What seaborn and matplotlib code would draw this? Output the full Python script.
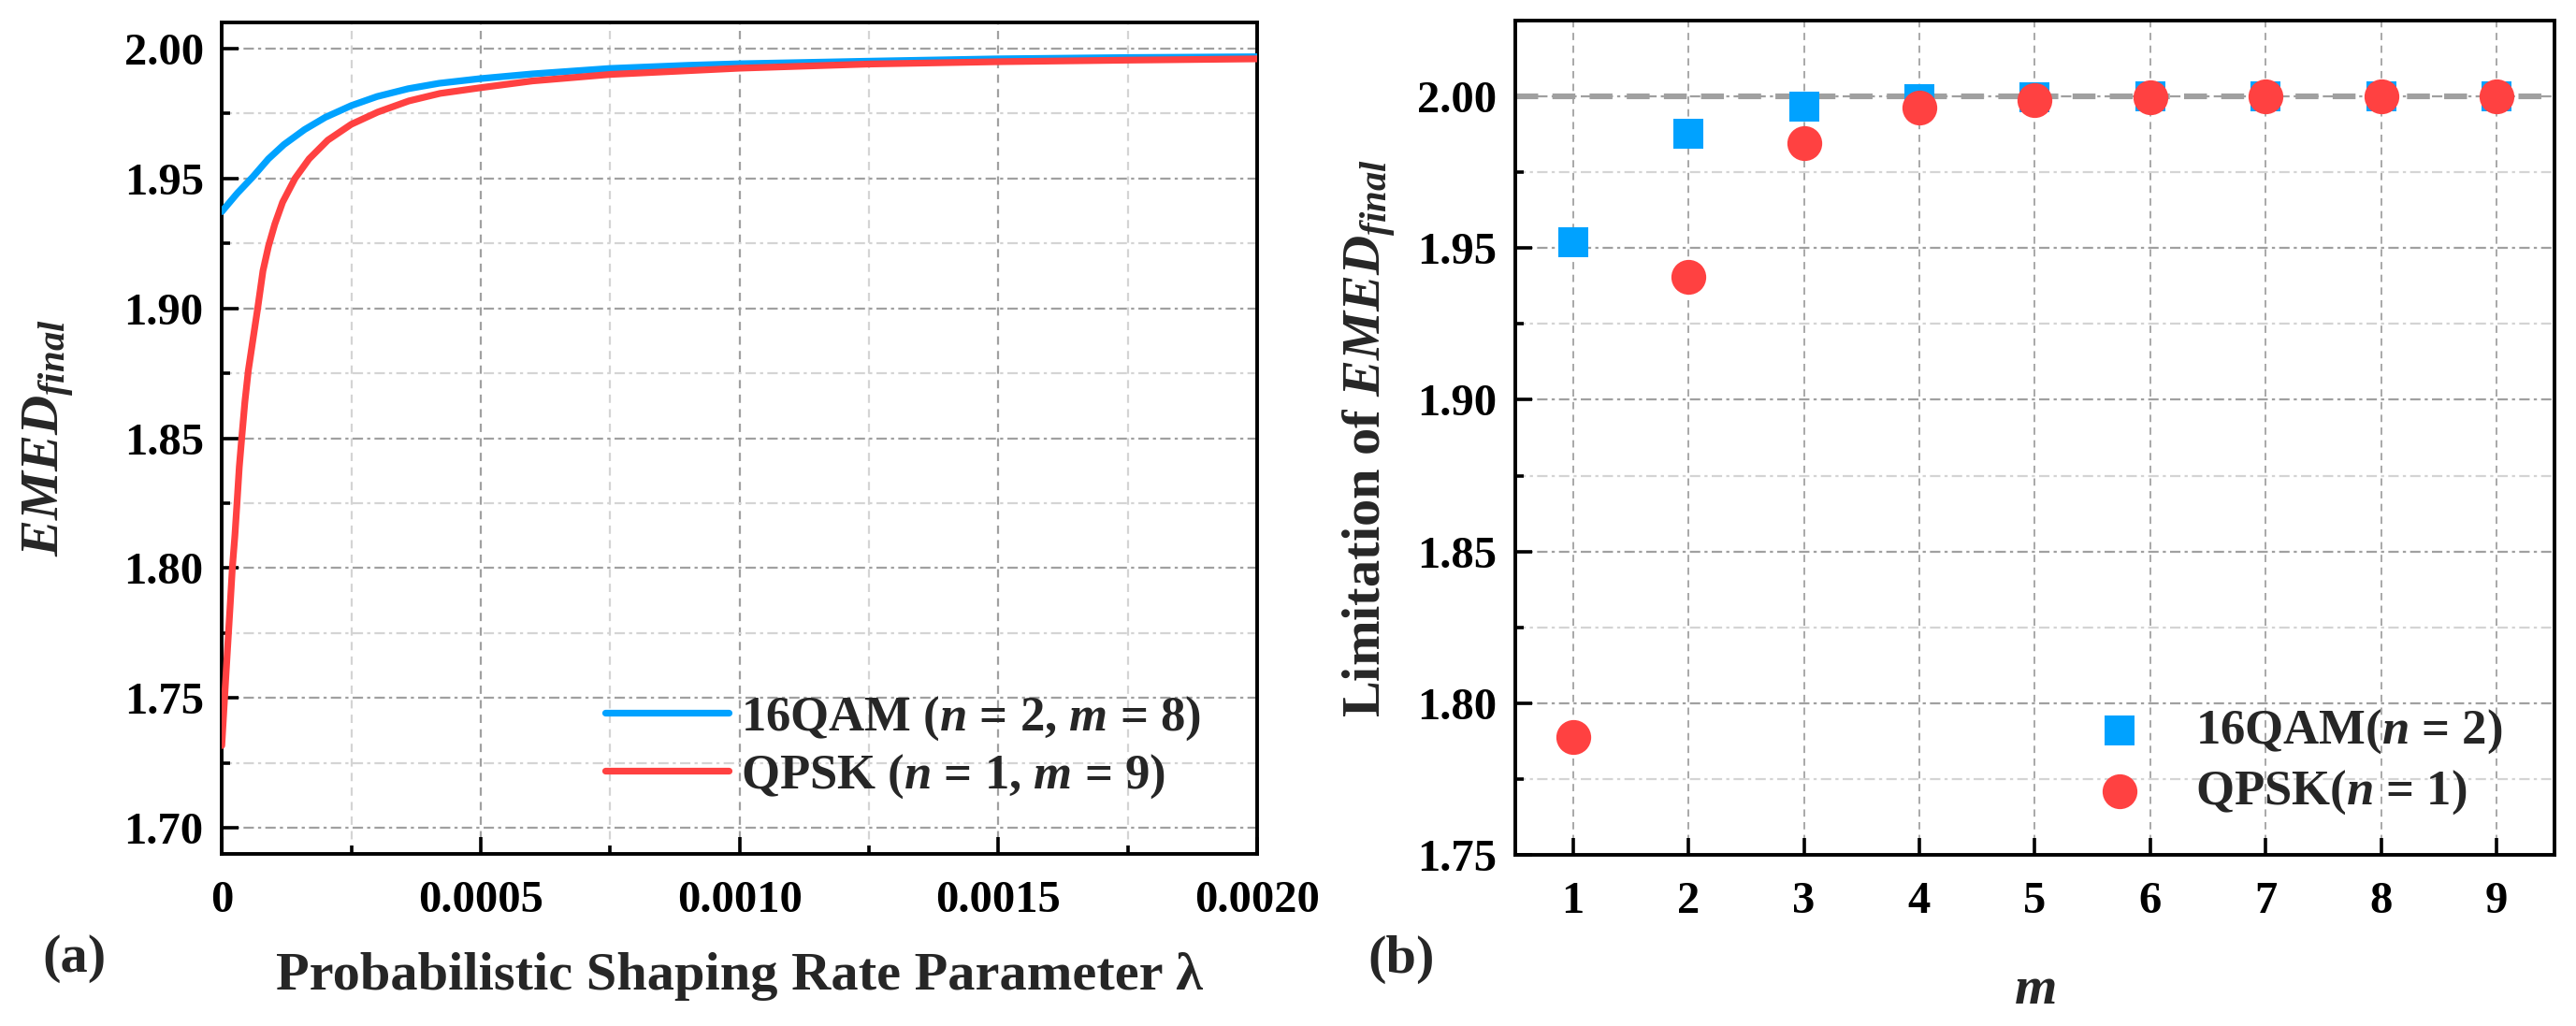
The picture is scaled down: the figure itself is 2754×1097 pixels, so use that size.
import matplotlib
matplotlib.use("Agg")
import matplotlib.pyplot as plt
import seaborn as sns
import pandas as pd
from matplotlib.ticker import MultipleLocator, FixedLocator, FuncFormatter
from matplotlib.lines import Line2D

# ---------------- data ----------------
lam_16qam = [0, 0.00003, 0.00006, 0.00009, 0.00012, 0.00016, 0.0002, 0.00025,
             0.0003, 0.00036, 0.00042, 0.0005, 0.0006, 0.00075, 0.0009, 0.001,
             0.00125, 0.0015, 0.00175, 0.002]
emed_16qam = [1.9372, 1.9443, 1.9506, 1.9575, 1.9630, 1.9688, 1.9735, 1.9780,
              1.9815, 1.9845, 1.9866, 1.9884, 1.9902, 1.9923, 1.9935, 1.9941,
              1.9951, 1.9960, 1.9965, 1.9968]

lam_qpsk = [0, 0.0000054, 0.0000114, 0.0000163, 0.0000204, 0.0000253, 0.0000294,
            0.0000338, 0.0000385, 0.0000446, 0.0000512, 0.0000602, 0.0000693,
            0.0000795, 0.0000903, 0.0001024, 0.0001174, 0.0001415, 0.0001686,
            0.0002047, 0.00025, 0.0003011, 0.0003613, 0.0004216, 0.0005, 0.0006,
            0.00075, 0.001, 0.00125, 0.0015, 0.00175, 0.002]
emed_qpsk = [1.7317, 1.7501, 1.7700, 1.7861, 1.8001, 1.8125, 1.8251,
             1.8390, 1.8501, 1.8640, 1.8760, 1.8880, 1.9000,
             1.9144, 1.9240, 1.9324, 1.9408, 1.9500, 1.9575,
             1.9647, 1.9708, 1.9755, 1.9798, 1.9827, 1.9849, 1.9875,
             1.9900, 1.9924, 1.9940, 1.9949, 1.9955, 1.9960]

m_values = [1, 2, 3, 4, 5, 6, 7, 8, 9]
lim_16qam = [1.9518, 1.9876, 1.9968, 1.9992, 1.9998, 2.0000, 2.0000, 2.0000, 2.0000]
lim_qpsk = [1.7888, 1.9404, 1.9846, 1.9962, 1.9989, 1.9997, 1.9999, 2.0000, 2.0000]

label_line_16qam = r"16QAM ($\mathit{n}$ = 2, $\mathit{m}$ = 8)"
label_line_qpsk = r"QPSK ($\mathit{n}$ = 1, $\mathit{m}$ = 9)"
label_pt_16qam = r"16QAM($\mathit{n}$ = 2)"
label_pt_qpsk = r"QPSK($\mathit{n}$ = 1)"

xticks_a = [0, 0.0005, 0.0010, 0.0015, 0.0020]
xticklabels_a = ["0", "0.0005", "0.0010", "0.0015", "0.0020"]
yticks_a = [1.70, 1.75, 1.80, 1.85, 1.90, 1.95, 2.00]
yticks_b = [1.75, 1.80, 1.85, 1.90, 1.95, 2.00]

BLUE = "#00A2FF"
RED = "#FF4141"

# ---------------- style ----------------
sns.set_theme(style="white")
plt.rcParams.update({
    "font.family": ["Liberation Serif", "DejaVu Serif"],
    "font.weight": "bold",
    "axes.labelweight": "bold",
    "mathtext.fontset": "custom",
    "mathtext.rm": "Liberation Serif:bold",
    "mathtext.bf": "Liberation Serif:bold",
    "mathtext.it": "Liberation Serif:italic:bold",
    "axes.edgecolor": "black",
    "axes.linewidth": 1.4,
})

fig = plt.figure(figsize=(13.77, 5.485), dpi=200)
ax1 = fig.add_axes([0.0861, 0.1677, 0.4020, 0.8104])
ax2 = fig.add_axes([0.5882, 0.1668, 0.4034, 0.8131])

DASHDOT = (0, (5, 2, 1.5, 2))
DASHED = (0, (4, 3))
MAJ_C = "#A0A0A0"
MIN_C = "#D4D4D4"
TICK_FS = 17.5
LABEL_FS = 21

# ---------------- panel (a) ----------------
df_a16 = pd.DataFrame({"lam": lam_16qam, "emed": emed_16qam})
df_aqp = pd.DataFrame({"lam": lam_qpsk, "emed": emed_qpsk})
sns.lineplot(data=df_a16, x="lam", y="emed", ax=ax1, color=BLUE, linewidth=2.6,
             sort=False, estimator=None, zorder=3)
sns.lineplot(data=df_aqp, x="lam", y="emed", ax=ax1, color=RED, linewidth=2.6,
             sort=False, estimator=None, zorder=3.1)

ax1.set_xlim(0, 0.002)
ax1.set_ylim(1.690, 2.010)
ax1.xaxis.set_major_locator(FixedLocator(xticks_a))
ax1.xaxis.set_major_formatter(FuncFormatter(lambda v, p: xticklabels_a[p] if p is not None and p < len(xticklabels_a) else ""))
ax1.set_xticks(xticks_a)
ax1.set_xticklabels(xticklabels_a)
ax1.xaxis.set_minor_locator(MultipleLocator(0.00025))
ax1.set_yticks(yticks_a)
ax1.set_yticklabels([f"{v:.2f}" for v in yticks_a])
ax1.yaxis.set_minor_locator(MultipleLocator(0.025))

ax1.grid(which="major", axis="y", color=MAJ_C, linestyle=DASHDOT, linewidth=0.8, zorder=0)
ax1.grid(which="minor", axis="y", color=MIN_C, linestyle=DASHDOT, linewidth=0.8, zorder=0)
ax1.grid(which="major", axis="x", color=MAJ_C, linestyle=DASHED, linewidth=0.8, zorder=0)
ax1.grid(which="minor", axis="x", color=MIN_C, linestyle=DASHED, linewidth=0.8, zorder=0)
ax1.set_axisbelow(True)

ax1.set_xlabel(r"Probabilistic Shaping Rate Parameter λ", fontsize=LABEL_FS, fontweight="bold")
ax1.set_ylabel(r"$\mathit{EMED}_{\mathit{final}}$", fontsize=LABEL_FS)
ax1.xaxis.set_label_coords(0.5, -0.118)
ax1.yaxis.set_label_coords(-0.140, 0.5)

leg1_handles = [Line2D([], [], color=BLUE, lw=2.6), Line2D([], [], color=RED, lw=2.6)]
ax1.legend(leg1_handles, [label_line_16qam, label_line_qpsk], loc="center left",
           bbox_to_anchor=(0.370, 0.128), frameon=False, borderpad=0, borderaxespad=0,
           handlelength=2.5, handletextpad=0.25, labelspacing=0.2,
           prop={"family": "Liberation Serif", "weight": "bold", "size": 19})

# ---------------- panel (b) ----------------
df_b16 = pd.DataFrame({"m": m_values, "lim": lim_16qam})
df_bqp = pd.DataFrame({"m": m_values, "lim": lim_qpsk})
ax2.axhline(2.0, color=MAJ_C, linewidth=2.2, linestyle=(0, (4, 2.5)), zorder=1.5)
sns.scatterplot(data=df_b16, x="m", y="lim", ax=ax2, marker="s", s=135, color=BLUE,
                linewidth=0, zorder=3, label=label_pt_16qam)
sns.scatterplot(data=df_bqp, x="m", y="lim", ax=ax2, marker="o", s=180, color=RED,
                linewidth=0, zorder=3.1, label=label_pt_qpsk)

ax2.set_xlim(0.5, 9.5)
ax2.set_ylim(1.75, 2.025)
ax2.set_xticks(m_values)
ax2.set_xticklabels([str(v) for v in m_values])
ax2.set_yticks(yticks_b)
ax2.set_yticklabels([f"{v:.2f}" for v in yticks_b])
ax2.yaxis.set_minor_locator(MultipleLocator(0.025))

ax2.grid(which="major", axis="y", color=MAJ_C, linestyle=DASHDOT, linewidth=0.8, zorder=0)
ax2.grid(which="minor", axis="y", color=MIN_C, linestyle=DASHDOT, linewidth=0.8, zorder=0)
ax2.grid(which="major", axis="x", color="#A8A8A8", linestyle=DASHED, linewidth=0.7, zorder=0)
ax2.set_axisbelow(True)

ax2.set_xlabel(r"$\mathit{m}$", fontsize=LABEL_FS)
ax2.set_ylabel(r"Limitation of $\mathit{EMED}_{\mathit{final}}$", fontsize=LABEL_FS)
ax2.xaxis.set_label_coords(0.5, -0.133)
ax2.yaxis.set_label_coords(-0.1125, 0.5)

ax2.legend(loc="center left", bbox_to_anchor=(0.546, 0.1115), frameon=False,
           borderpad=0, borderaxespad=0, handlelength=1.5, handletextpad=0.78,
           labelspacing=0.25, scatterpoints=1,
           prop={"family": "Liberation Serif", "weight": "bold", "size": 19})

# ---------------- common axis styling ----------------
for ax in (ax1, ax2):
    for sp in ax.spines.values():
        sp.set_visible(True)
        sp.set_color("black")
        sp.set_linewidth(1.4)
    ax.tick_params(which="major", direction="in", length=6.5, width=1.3,
                   top=False, right=False, bottom=True, left=True,
                   labelsize=TICK_FS, pad=7, color="black", labelcolor="black")
    ax.tick_params(which="minor", direction="in", length=3.3, width=1.3,
                   top=False, right=False, bottom=True, left=True, color="black")
    ax.tick_params(axis="x", which="major", pad=10)
    for lab in ax.get_xticklabels() + ax.get_yticklabels():
        lab.set_fontweight("bold")
        lab.set_fontfamily("Liberation Serif")

fig.text(80 / 2754, 1 - 1025 / 1097, "(a)", fontsize=LABEL_FS, fontweight="bold",
         ha="center", va="center", family="Liberation Serif")
fig.text(1498 / 2754, 1 - 1026 / 1097, "(b)", fontsize=LABEL_FS, fontweight="bold",
         ha="center", va="center", family="Liberation Serif")

fig.savefig("out.png", dpi=200, facecolor="white")
